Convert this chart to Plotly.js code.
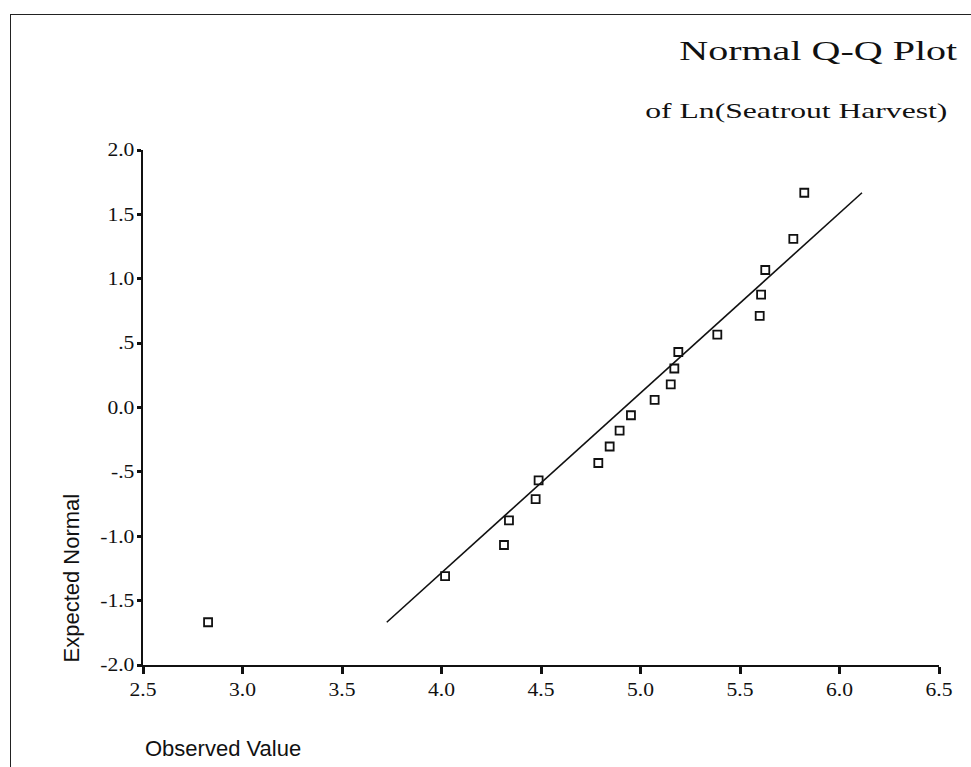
<!DOCTYPE html>
<html>
<head>
<meta charset="utf-8">
<script src="https://cdn.plot.ly/plotly-3.0.1.min.js"></script>
<style>
  html, body { margin: 0; padding: 0; background: #fff; }
  #wrap { position: relative; width: 971px; height: 767px; overflow: hidden; }
  #chart { width: 971px; height: 767px; }
  #frame { position: absolute; left: 10px; top: 14px; width: 1000px; height: 800px;
           border-left: 1.5px solid #222; border-top: 1.5px solid #222; pointer-events: none; }
</style>
</head>
<body>
<div id="wrap">
  <div id="chart"></div>
  <div id="frame"></div>
</div>
<script>
// Observed values (ln of seatrout harvest), sorted
const observed = [2.827, 4.018, 4.314, 4.339, 4.473, 4.488, 4.788, 4.845, 4.895, 4.952,
                  5.071, 5.152, 5.170, 5.190, 5.386, 5.599, 5.606, 5.627, 5.768, 5.823];
// Expected normal values
const expectedNormal = [-1.668, -1.309, -1.068, -0.876, -0.712, -0.566, -0.431, -0.303, -0.180, -0.060,
                        0.060, 0.180, 0.303, 0.431, 0.566, 0.712, 0.876, 1.068, 1.309, 1.668];
// Reference line end points
const lineX = [3.725, 6.113];
const lineY = [-1.668, 1.668];

const xTickVals = [2.5, 3.0, 3.5, 4.0, 4.5, 5.0, 5.5, 6.0, 6.5];
const xTickText = ["2.5", "3.0", "3.5", "4.0", "4.5", "5.0", "5.5", "6.0", "6.5"];
const yTickVals = [-2, -1.5, -1, -0.5, 0, 0.5, 1, 1.5, 2];
const yTickText = ["-2.0", "-1.5", "-1.0", "-.5", "0.0", ".5", "1.0", "1.5", "2.0"];

const titleText = "Normal Q-Q Plot";
const subtitleText = "of Ln(Seatrout Harvest)";
const yTitle = "Expected Normal";
const xTitle = "Observed Value";

const W = 971, H = 767;
const M = { l: 143, r: 32, t: 150, b: 102 };
const pw = W - M.l - M.r, ph = H - M.t - M.b;
const px = x => (x - M.l) / pw;
const py = y => (H - M.b - y) / ph;

const serif = "Liberation Serif, Times New Roman, serif";
const sans = "Liberation Sans, Arial, sans-serif";

const traces = [
  {
    x: lineX, y: lineY, type: "scatter", mode: "lines",
    line: { color: "#111", width: 1.6 }, hoverinfo: "skip"
  },
  {
    x: observed, y: expectedNormal, type: "scatter", mode: "markers",
    marker: { symbol: "square-open", size: 8, color: "#111", line: { width: 1.8, color: "#111" } }
  }
];

const axisCommon = {
  showgrid: false, zeroline: false, showline: true, linecolor: "#111", linewidth: 2,
  ticks: "outside", tickcolor: "#111", tickwidth: 3,
  tickfont: { family: serif, size: 18, color: "#111" }, tickmode: "array"
};

const layout = {
  width: W, height: H,
  margin: M,
  paper_bgcolor: "#fff", plot_bgcolor: "#fff",
  showlegend: false,
  xaxis: Object.assign({}, axisCommon, {
    range: [2.5, 6.5], tickvals: xTickVals, ticktext: xTickText, ticklen: 7
  }),
  yaxis: Object.assign({}, axisCommon, {
    range: [-2, 2], tickvals: yTickVals, ticktext: yTickText, ticklen: 4, ticklabelstandoff: -1
  }),
  annotations: [
    { text: titleText, xref: "paper", yref: "paper", x: px(818), y: py(51),
      xanchor: "center", yanchor: "middle", showarrow: false,
      font: { family: serif, size: 28, color: "#111" } },
    { text: subtitleText, xref: "paper", yref: "paper", x: px(796), y: py(111),
      xanchor: "center", yanchor: "middle", showarrow: false,
      font: { family: serif, size: 21, color: "#111" } },
    { text: yTitle, xref: "paper", yref: "paper", x: px(71), y: py(665),
      xanchor: "center", yanchor: "bottom", textangle: -90, showarrow: false,
      font: { family: sans, size: 22, color: "#111" } },
    { text: xTitle, xref: "paper", yref: "paper", x: px(143), y: py(748),
      xanchor: "left", yanchor: "middle", showarrow: false,
      font: { family: sans, size: 22, color: "#111" } }
  ]
};

// horizontal widening of the scanned serif texts
const annotationWidths = [278, 302, null, null];
const tickStretch = 1.2;

function widen(el, target) {
  const len = el.getComputedTextLength();
  if (!len || !target) return;
  el.setAttribute("textLength", target.toFixed(1));
  el.setAttribute("lengthAdjust", "spacingAndGlyphs");
}

Plotly.newPlot("chart", traces, layout, { staticPlot: true, displayModeBar: false }).then(gd => {
  gd.querySelectorAll("g.annotation").forEach(g => {
    const i = +g.getAttribute("data-index");
    const t = g.querySelector("text.annotation-text");
    if (t && annotationWidths[i]) widen(t, annotationWidths[i]);
  });
  gd.querySelectorAll("g.xtick text, g.ytick text").forEach(t => {
    widen(t, t.getComputedTextLength() * tickStretch);
  });
});
</script>
</body>
</html>
